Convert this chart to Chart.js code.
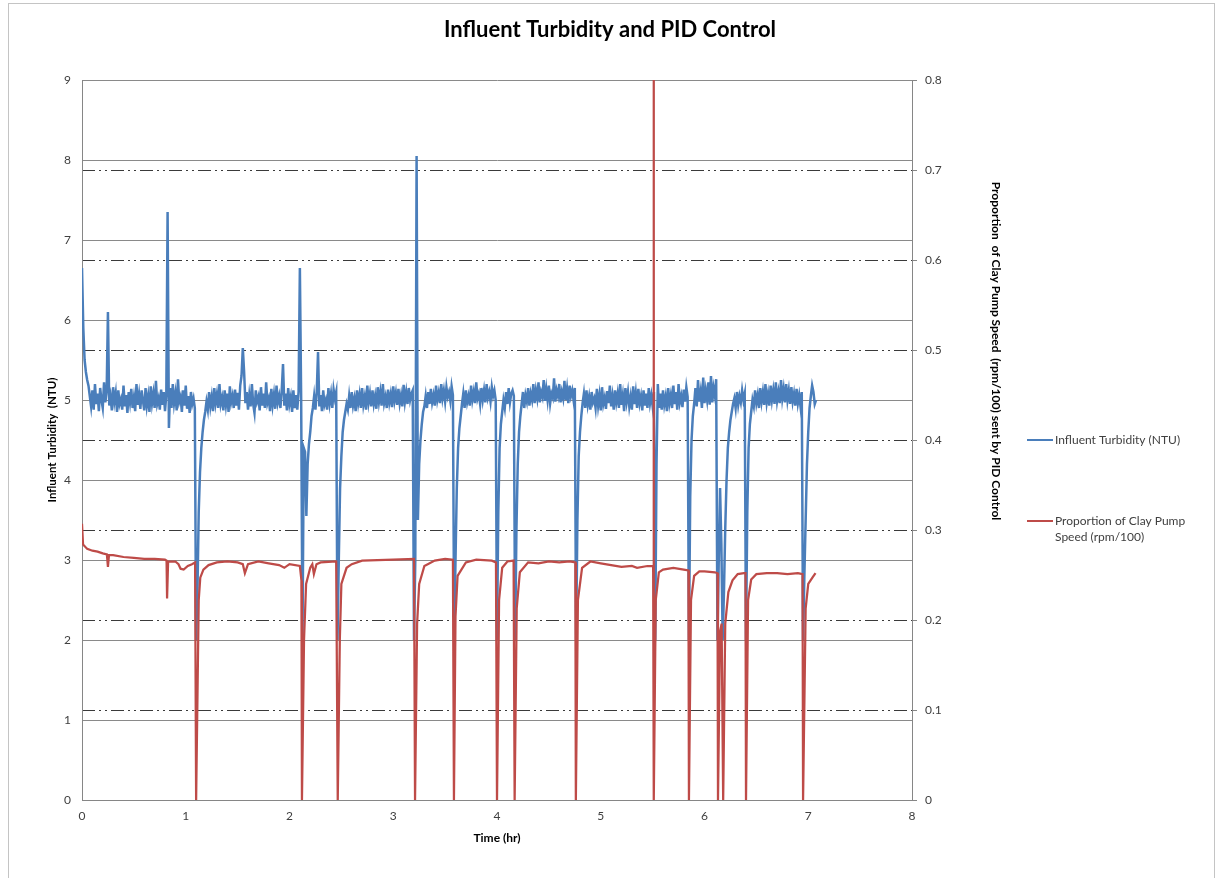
<!DOCTYPE html>
<html>
<head>
<meta charset="utf-8">
<title>Influent Turbidity and PID Control</title>
<script src="https://cdn.jsdelivr.net/npm/chart.js@4.4.1/dist/chart.umd.min.js"></script>
<style>
  html, body { margin: 0; padding: 0; background: #fff; overflow: hidden; }
  #wrap { position: relative; width: 1220px; height: 878px; }
  #frame {
    position: absolute; left: 8px; top: 3px; width: 1205px; height: 890px;
    border: 1px solid #c4c4c4; pointer-events: none;
  }
</style>
</head>
<body>
<div id="wrap">
  <canvas id="chart" width="1220" height="878"></canvas>
  <div id="frame"></div>
</div>
<script>
// logger interval for the turbidity readings (hr)
const blueStep = 0.0125;

// Influent turbidity (NTU), one reading every blueStep hours from t = 0
const blueNTU = [
  6.65, 5.9, 5.5, 5.35, 5.25,
  5.18, 5.05, 4.92, 5.12, 4.88, 5.2, 4.95, 5.08, 4.86, 5.15, 5.0, 4.9, 5.22, 4.97, 5.1,
  6.1,
  4.93, 5.04, 4.87, 5.16, 4.98, 5.09, 4.85, 5.12, 4.95, 5.01,
  4.88, 5.18, 4.92, 5.06, 4.84, 5.1, 4.97, 5.14, 4.9, 5.03,
  4.86, 5.2, 4.94, 5.07, 4.89, 5.12, 4.99, 4.87, 5.15, 4.93,
  5.05, 4.85, 5.17, 4.96, 5.08, 4.9, 5.24, 4.95, 5.02, 4.88,
  5.13, 4.94, 5.1, 4.86, 5.06,
  7.35, 4.65,
  5.15, 4.9, 5.2, 4.96, 5.08, 4.87, 5.26, 4.98, 5.04, 4.85,
  5.12, 4.93, 5.18, 4.89, 5.05, 4.84, 5.1, 4.95, 5.02, 4.9,
  // 1.1 hr dip and recovery
  2.0, 2.6, 3.6, 4.1, 4.4, 4.6, 4.75, 4.85,
  4.98, 4.88, 5.1, 4.92, 5.04, 4.86, 5.15, 4.96, 5.07, 4.9,
  5.2, 4.95, 5.03, 4.87, 5.12, 4.94, 5.08, 4.85, 5.17, 4.97,
  5.05, 4.9, 5.13, 4.93, 5.09, 4.88, 5.18,
  5.3, 5.65, 5.35,
  4.96, 5.1, 4.88, 5.06, 4.92, 5.2, 4.95, 4.84, 5.12, 4.98,
  5.04, 4.87, 5.16, 4.93, 5.08, 4.9, 5.22, 4.96, 5.02, 4.86,
  5.14, 4.94, 5.07, 4.89, 5.18, 4.97, 5.05, 4.9, 5.12,
  5.45,
  4.93, 5.08, 4.87, 5.15, 4.95, 5.04, 4.85, 5.12, 4.9, 5.06, 4.88, 5.1,
  6.65, 5.0,
  // 2.12 hr dip
  2.0, 4.4, 4.35, 3.55, 4.2, 4.45, 4.6, 4.8, 4.9,
  5.05, 4.88, 5.1,
  5.6,
  4.92, 5.06, 4.86, 5.12, 4.94, 5.0, 4.88, 5.15, 4.96, 5.08, 4.9, 5.13, 5.02, 5.1,
  // 2.46 hr dip
  2.0, 3.0, 3.9, 4.3, 4.6, 4.75, 4.85,
  4.95, 4.88, 5.05, 4.9, 5.1, 4.93, 5.02, 4.86, 5.12, 4.96,
  5.07, 4.9, 5.15, 4.94, 5.04, 4.88, 5.18, 4.97, 5.08, 4.92,
  5.12, 4.95, 5.05, 4.89, 5.16, 4.98, 5.1, 4.93, 5.2, 4.96,
  5.04, 4.9, 5.13, 4.97, 5.07, 4.91, 5.17, 4.99, 5.09, 4.94,
  5.14, 4.96, 5.06, 4.92, 5.19, 4.98, 5.1, 4.95, 5.15, 5.0,
  5.08, 5.12,
  // 3.2 hr spike and dip
  2.0, 3.0, 8.05, 3.5, 4.2, 4.5, 4.7, 4.85,
  4.92, 5.05, 4.9, 5.1, 4.95, 5.14, 4.97, 5.06, 4.93, 5.18,
  5.0, 5.09, 4.96, 5.2, 5.02, 5.12, 4.98, 5.16, 5.04, 5.1,
  4.99, 5.17, 5.06,
  // 3.59 hr dip
  2.0, 3.0, 3.9, 4.4, 4.65, 4.8,
  4.95, 5.08, 4.9, 5.12, 4.97, 5.05, 4.93, 5.18, 5.0, 5.1,
  4.96, 5.22, 5.02, 5.08, 4.95, 5.15, 5.0, 5.12, 4.97, 5.2,
  5.03, 5.1, 4.98, 5.16, 5.05, 5.12, 5.0,
  // 4.0 hr dip
  2.0, 3.6, 4.4, 4.7, 4.85,
  5.0, 4.9, 5.1, 4.95, 5.15, 4.97, 5.08, 5.12, 5.05,
  // 4.17 hr dip
  2.0, 3.4, 4.2, 4.6, 4.8,
  4.95, 5.1, 4.9, 5.06, 4.98, 5.15, 4.93, 5.08, 5.0, 5.2,
  4.96, 5.12, 5.02, 5.22, 4.97, 5.1, 5.04, 5.25, 4.99, 5.14,
  5.0, 5.18, 4.96, 5.08, 5.03, 5.27, 4.98, 5.12, 5.05, 5.2,
  4.97, 5.1, 5.02, 5.24, 5.0, 5.14, 4.96, 5.18, 5.05, 5.12,
  5.0, 5.15,
  // 4.76 hr dip
  2.0, 3.5, 4.3, 4.6, 4.8,
  4.96, 5.08, 4.9, 5.12, 4.94, 5.04, 4.88, 5.1, 4.97, 5.02,
  4.9, 5.14, 4.93, 5.06, 4.87, 5.16, 4.95, 5.03, 4.89, 5.11,
  4.96, 5.18, 4.92, 5.05, 4.88, 5.12, 4.97, 5.08, 4.9, 5.2,
  4.94, 5.06, 4.86, 5.15, 4.98, 5.1, 4.92, 5.04, 4.88, 5.17,
  4.95, 5.09, 4.9, 5.14, 4.96, 5.05, 4.87, 5.12, 4.93, 5.08,
  4.9, 5.15, 4.96, 5.06, 4.92, 5.1,
  // 5.52 hr dip
  2.0, 4.2, 5.2,
  4.9, 5.08, 4.88, 5.12, 4.94, 5.04, 4.86, 5.15, 4.96, 5.06,
  4.9, 5.18, 4.95, 5.1, 4.88, 5.2, 4.97, 5.05, 4.91, 5.13,
  4.98, 5.16, 5.04,
  // 5.85 hr dip
  2.0, 3.8, 4.5, 4.8,
  4.95, 5.15, 4.92, 5.25, 4.98, 5.1, 4.9, 5.28, 4.96, 5.12,
  5.0, 5.22, 4.94, 5.3, 4.97, 5.15, 5.05, 5.26,
  // double dip 6.13 - 6.18 hr
  2.0, 3.0, 3.9, 3.2, 2.0, 2.6, 3.4, 4.0, 4.4, 4.6, 4.75, 4.85,
  4.95, 5.02, 4.9, 5.1, 4.94, 5.05, 4.97, 5.12, 5.0, 5.08,
  // 6.4 hr dip
  2.0, 3.6, 4.4, 4.7, 4.85,
  5.0, 4.92, 5.12, 4.96, 5.06, 4.9, 5.15, 4.98, 5.1, 4.94,
  5.2, 4.97, 5.08, 4.93, 5.18, 5.0, 5.12, 4.95, 5.22, 4.99,
  5.1, 4.96, 5.25, 5.02, 5.14, 4.97, 5.2, 5.0, 5.12, 4.95,
  5.16, 4.98, 5.08, 4.93, 5.14, 4.96, 5.06, 4.92, 5.1,
  // 6.95 hr dip, end of run
  2.0, 2.8, 3.5, 4.2, 4.6, 4.9, 5.05, 5.18, 5.1, 4.95, 5.0
];

// PID output: clay pump speed proportion (rpm/100) at the times below (hr)
const redTime = [
  0, 0.01, 0.05, 0.1, 0.15, 0.2, 0.24, 0.25, 0.26, 0.3, 0.4, 0.5, 0.6, 0.7, 0.8,
  0.815, 0.82, 0.83, 0.9, 0.93, 0.95, 0.98, 1.02, 1.06, 1.09,
  1.1, 1.115, 1.125, 1.14, 1.17, 1.22, 1.3, 1.4, 1.5, 1.55, 1.57, 1.6, 1.7, 1.8,
  1.9, 1.95, 2.0, 2.1, 2.115,
  2.12, 2.14, 2.16, 2.2, 2.22, 2.235, 2.26, 2.3, 2.45,
  2.465, 2.485, 2.5, 2.55, 2.6, 2.7, 3.0, 3.2,
  3.21, 3.23, 3.25, 3.3, 3.4, 3.5, 3.575,
  3.585, 3.6, 3.62, 3.7, 3.8, 3.95, 3.99,
  4.0, 4.02, 4.05, 4.1, 4.16,
  4.17, 4.19, 4.22, 4.3, 4.4, 4.5, 4.6, 4.7, 4.755,
  4.76, 4.78, 4.82, 4.9, 5.0, 5.1, 5.2, 5.3, 5.35, 5.45, 5.505,
  5.51, 5.512, 5.53, 5.56, 5.6, 5.7, 5.8, 5.845,
  5.85, 5.87, 5.9, 5.95, 6.0, 6.1, 6.125,
  6.13, 6.15, 6.165, 6.18, 6.2, 6.23, 6.27, 6.32, 6.38, 6.395,
  6.4, 6.42, 6.45, 6.5, 6.6, 6.7, 6.8, 6.9, 6.945,
  6.95, 6.975, 7.0, 7.04, 7.07
];
const redSpeed = [
  0.307, 0.284, 0.279, 0.277, 0.276, 0.274, 0.273, 0.259, 0.272, 0.272, 0.270, 0.269, 0.268, 0.268, 0.267,
  0.266, 0.224, 0.265, 0.265, 0.262, 0.257, 0.256, 0.260, 0.262, 0.264,
  0, 0.133, 0.222, 0.247, 0.256, 0.261, 0.264, 0.265, 0.264, 0.262, 0.252, 0.262, 0.265, 0.263,
  0.261, 0.258, 0.262, 0.260, 0.244,
  0, 0.178, 0.240, 0.258, 0.262, 0.251, 0.262, 0.264, 0.265,
  0, 0.178, 0.240, 0.258, 0.262, 0.266, 0.267, 0.268,
  0, 0.196, 0.240, 0.260, 0.266, 0.268, 0.267,
  0, 0.204, 0.249, 0.264, 0.267, 0.266, 0.264,
  0, 0.222, 0.258, 0.265, 0.266,
  0, 0.213, 0.253, 0.264, 0.263, 0.265, 0.264, 0.265, 0.264,
  0, 0.222, 0.258, 0.265, 0.263, 0.261, 0.259, 0.260, 0.258, 0.260, 0.260,
  0.85, 0, 0.222, 0.253, 0.256, 0.258, 0.256, 0.255,
  0, 0.222, 0.249, 0.254, 0.254, 0.253, 0.252,
  0, 0.187, 0.196, 0, 0.196, 0.231, 0.244, 0.251, 0.252, 0.252,
  0, 0.222, 0.245, 0.251, 0.252, 0.252, 0.251, 0.252, 0.251,
  0, 0.213, 0.240, 0.247, 0.252
];

// axis ticks
const timeTicks = [0, 1, 2, 3, 4, 5, 6, 7, 8];
const ntuTicks = [0, 1, 2, 3, 4, 5, 6, 7, 8, 9];
const speedTicks = [0, 0.1, 0.2, 0.3, 0.4, 0.5, 0.6, 0.7, 0.8];

const seriesNames = ["Influent Turbidity (NTU)", ["Proportion of Clay Pump", "Speed (rpm/100)"]];
const BLUE = "#4A7EBB";
const RED = "#BE4B48";
const FONT = "Lato, 'Open Sans', sans-serif";

const bluePoints = blueNTU.map((v, i) => ({ x: +(i * blueStep).toFixed(4), y: v }));
const redPoints = redTime.map((t, i) => ({ x: t, y: redSpeed[i] }));

// legend + right axis title drawn by hand (Excel-style placement, wrapped text)
const sideTextPlugin = {
  id: "sideText",
  afterDraw(chart) {
    const ctx = chart.ctx;
    ctx.save();
    // right axis title, reads top to bottom
    ctx.translate(996, 351);
    ctx.rotate(Math.PI / 2);
    ctx.font = "bold 12px " + FONT;
    ctx.fillStyle = "#000";
    ctx.textAlign = "center";
    ctx.textBaseline = "middle";
    ctx.fillText("Proportion  of Clay Pump Speed  (rpm/100) sent by PID Control", 0, 0);
    ctx.restore();

    ctx.save();
    ctx.lineWidth = 2;
    ctx.font = "12px " + FONT;
    ctx.fillStyle = "#404040";
    ctx.textBaseline = "middle";
    [[BLUE, 440], [RED, 521]].forEach(([col, y], k) => {
      ctx.strokeStyle = col;
      ctx.beginPath();
      ctx.moveTo(1027, y);
      ctx.lineTo(1053, y);
      ctx.stroke();
      const lines = [].concat(seriesNames[k]);
      lines.forEach((txt, j) => ctx.fillText(txt, 1055, y + j * 16));
    });
    ctx.restore();
  },
};

new Chart(document.getElementById("chart"), {
  type: "line",
  data: {
    datasets: [
      {
        label: "Influent Turbidity (NTU)",
        data: bluePoints,
        yAxisID: "yNTU",
        borderColor: BLUE,
        borderWidth: 2.5,
        pointRadius: 0,
        tension: 0,
        order: 2,
      },
      {
        label: "Proportion of Clay Pump Speed (rpm/100)",
        data: redPoints,
        yAxisID: "ySpeed",
        borderColor: RED,
        borderWidth: 2.25,
        pointRadius: 0,
        tension: 0,
        order: 1,
      },
    ],
  },
  options: {
    responsive: false,
    animation: false,
    devicePixelRatio: 1,
    layout: { padding: { left: 0, right: 0, top: 0, bottom: 18 } },
    plugins: {
      legend: { display: false },
      tooltip: { enabled: false },
      title: {
        display: true,
        text: "Influent Turbidity and PID Control",
        color: "#000",
        font: { family: FONT, size: 22, weight: "bold" },
        padding: { top: 17, bottom: 36.6 },
      },
    },
    scales: {
      x: {
        type: "linear",
        min: 0,
        max: 8,
        afterFit: (s) => { s.height = 60; },
        afterBuildTicks: (s) => { s.ticks = timeTicks.map((v) => ({ value: v })); },
        grid: { display: false, drawTicks: false },
        border: { color: "#868686", width: 1 },
        ticks: { padding: 9, color: "#404040", font: { family: FONT, size: 12 } },
        title: {
          display: true,
          text: "Time (hr)",
          color: "#000",
          font: { family: FONT, size: 12, weight: "bold" },
          padding: { top: 0, bottom: 15 },
        },
      },
      yNTU: {
        position: "left",
        min: 0,
        max: 9,
        afterFit: (s) => { s.width = 82; },
        afterBuildTicks: (s) => { s.ticks = ntuTicks.map((v) => ({ value: v })); },
        grid: { color: "#8a8a8a", lineWidth: 1, drawTicks: false },
        border: { color: "#868686", width: 1 },
        ticks: { padding: 11, color: "#404040", font: { family: FONT, size: 12 } },
        title: {
          display: true,
          text: "Influent Turbidity  (NTU)",
          color: "#000",
          font: { family: FONT, size: 11.5, weight: "bold" },
          padding: { top: 45, bottom: 0 },
        },
      },
      ySpeed: {
        position: "right",
        min: 0,
        max: 0.8,
        afterFit: (s) => { s.width = 308; },
        afterBuildTicks: (s) => { s.ticks = speedTicks.map((v) => ({ value: v })); },
        grid: {
          // dash-dot lines, skipped where they would sit on the frame
          color: (c) => (c.tick && (c.tick.value === 0 || c.tick.value === 0.8) ? "rgba(0,0,0,0)" : "#3a3a3a"),
          lineWidth: 1,
          drawTicks: true,
          tickLength: 5,
          tickColor: "#868686",
          tickBorderDash: [],
        },
        border: { color: "#868686", width: 1, dash: [13, 4, 2, 4, 2, 4] },
        ticks: {
          padding: 8,
          color: "#404040",
          font: { family: FONT, size: 12 },
          callback: (v) => (v === 0 ? "0" : v.toFixed(1)),
        },
      },
    },
  },
  plugins: [sideTextPlugin],
});
</script>
</body>
</html>
